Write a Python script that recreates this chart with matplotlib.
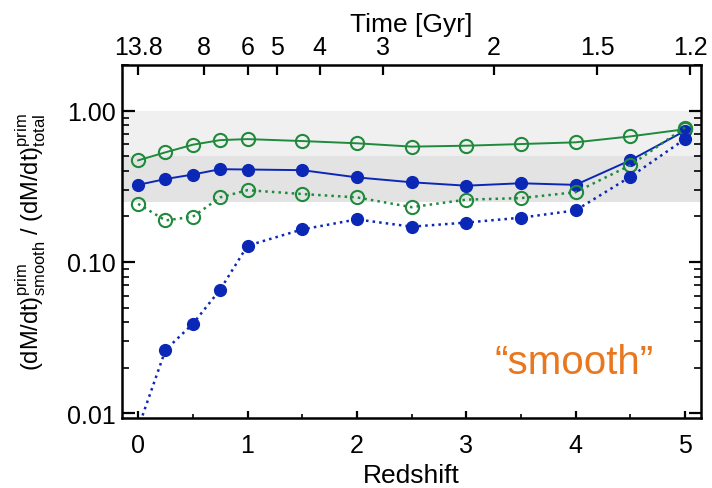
import matplotlib.pyplot as plt
import numpy as np

plt.rcParams['font.family'] = ['Liberation Sans', 'DejaVu Sans']
plt.rcParams['mathtext.fontset'] = 'custom'
plt.rcParams['mathtext.rm'] = 'Liberation Sans'
plt.rcParams['mathtext.it'] = 'Liberation Sans'

# redshift grid of the measurements
z = [0, 0.25, 0.5, 0.75, 1, 1.5, 2, 2.5, 3, 3.5, 4, 4.5, 5]

# fractions of smooth primordial accretion
green_solid = [0.469, 0.53, 0.595, 0.638, 0.648, 0.629, 0.608, 0.578, 0.586, 0.601, 0.617, 0.675, 0.753]
blue_solid = [0.323, 0.353, 0.378, 0.41, 0.408, 0.404, 0.362, 0.336, 0.319, 0.331, 0.323, 0.469, 0.734]
green_dotted = [0.242, 0.188, 0.199, 0.267, 0.298, 0.281, 0.267, 0.23, 0.258, 0.264, 0.289, 0.435, 0.772]
blue_dotted = [0.008, 0.0262, 0.039, 0.0656, 0.128, 0.164, 0.191, 0.171, 0.182, 0.196, 0.219, 0.365, 0.648]

# cosmic time labels on the top axis and the redshifts they sit at
time_labels = ['13.8', '8', '6', '5', '4', '3', '2', '1.5', '1.2']
time_z = [0.0, 0.60, 1.0, 1.27, 1.66, 2.24, 3.25, 4.2, 5.05]

GREEN = '#1f8a3c'
BLUE = '#0b27b5'
ORANGE = '#e8771e'

fig = plt.figure(figsize=(7.12, 4.89), dpi=100)
ax = fig.add_axes([0.171, 0.143, 0.814, 0.722])

# shaded bands
ax.axhspan(0.5, 1.0, color='#f0f0f0', lw=0, zorder=0)
ax.axhspan(0.25, 0.5, color='#e3e3e3', lw=0, zorder=0)

ax.plot(z, green_solid, '-', color=GREEN, lw=1.4, marker='o', ms=9.5,
        mfc='none', mec=GREEN, mew=1.5, zorder=3)
ax.plot(z, blue_solid, '-', color=BLUE, lw=1.4, marker='o', ms=8.5,
        mfc=BLUE, mec=BLUE, zorder=3)
ax.plot(z, green_dotted, ':', color=GREEN, lw=1.8, marker='o', ms=9.5,
        mfc='none', mec=GREEN, mew=1.5, zorder=3)
ax.plot(z, blue_dotted, ':', color=BLUE, lw=1.8, marker='o', ms=8.5,
        mfc=BLUE, mec=BLUE, zorder=3, clip_on=True)

ax.set_yscale('log')
ax.set_xlim(-0.15, 5.15)
ax.set_ylim(0.0093, 2.0)

ax.set_yticks([0.01, 0.1, 1.0])
ax.set_yticklabels(['0.01', '0.10', '1.00'])
ax.set_xticks([0, 1, 2, 3, 4, 5])
ax.set_xticks(np.arange(0.5, 5, 1.0), minor=True)

for s in ax.spines.values():
    s.set_linewidth(1.8)

ax.tick_params(axis='both', which='major', direction='in', labelsize=18, width=1.6, color='black')
ax.tick_params(axis='y', which='major', length=9, right=True, pad=4)
ax.tick_params(axis='y', which='minor', direction='in', length=5, width=1.2, right=True)
ax.tick_params(axis='x', which='major', length=5, pad=11)
ax.tick_params(axis='x', which='minor', direction='in', length=3, width=1.2)

ax.set_xlabel('Redshift', fontsize=19, labelpad=4)
ax.set_ylabel(r'$(\mathrm{dM/dt})^{\mathrm{prim}}_{\mathrm{smooth}}$ / $(\mathrm{dM/dt})^{\mathrm{prim}}_{\mathrm{total}}$',
              fontsize=17, labelpad=14)

# top axis: age of the universe
top = ax.twiny()
top.set_xlim(ax.get_xlim())
top.set_xticks(time_z)
top.set_xticklabels(time_labels)
top.tick_params(axis='x', direction='in', length=7, width=1.6, labelsize=18, pad=4)
top.set_xlabel('Time [Gyr]', fontsize=19, labelpad=3)
for s in top.spines.values():
    s.set_visible(False)

ax.text(3.99, 0.0218, '\u201csmooth\u201d', color=ORANGE, fontsize=29,
        ha='center', va='center')

fig.savefig('out.png', dpi=100)
